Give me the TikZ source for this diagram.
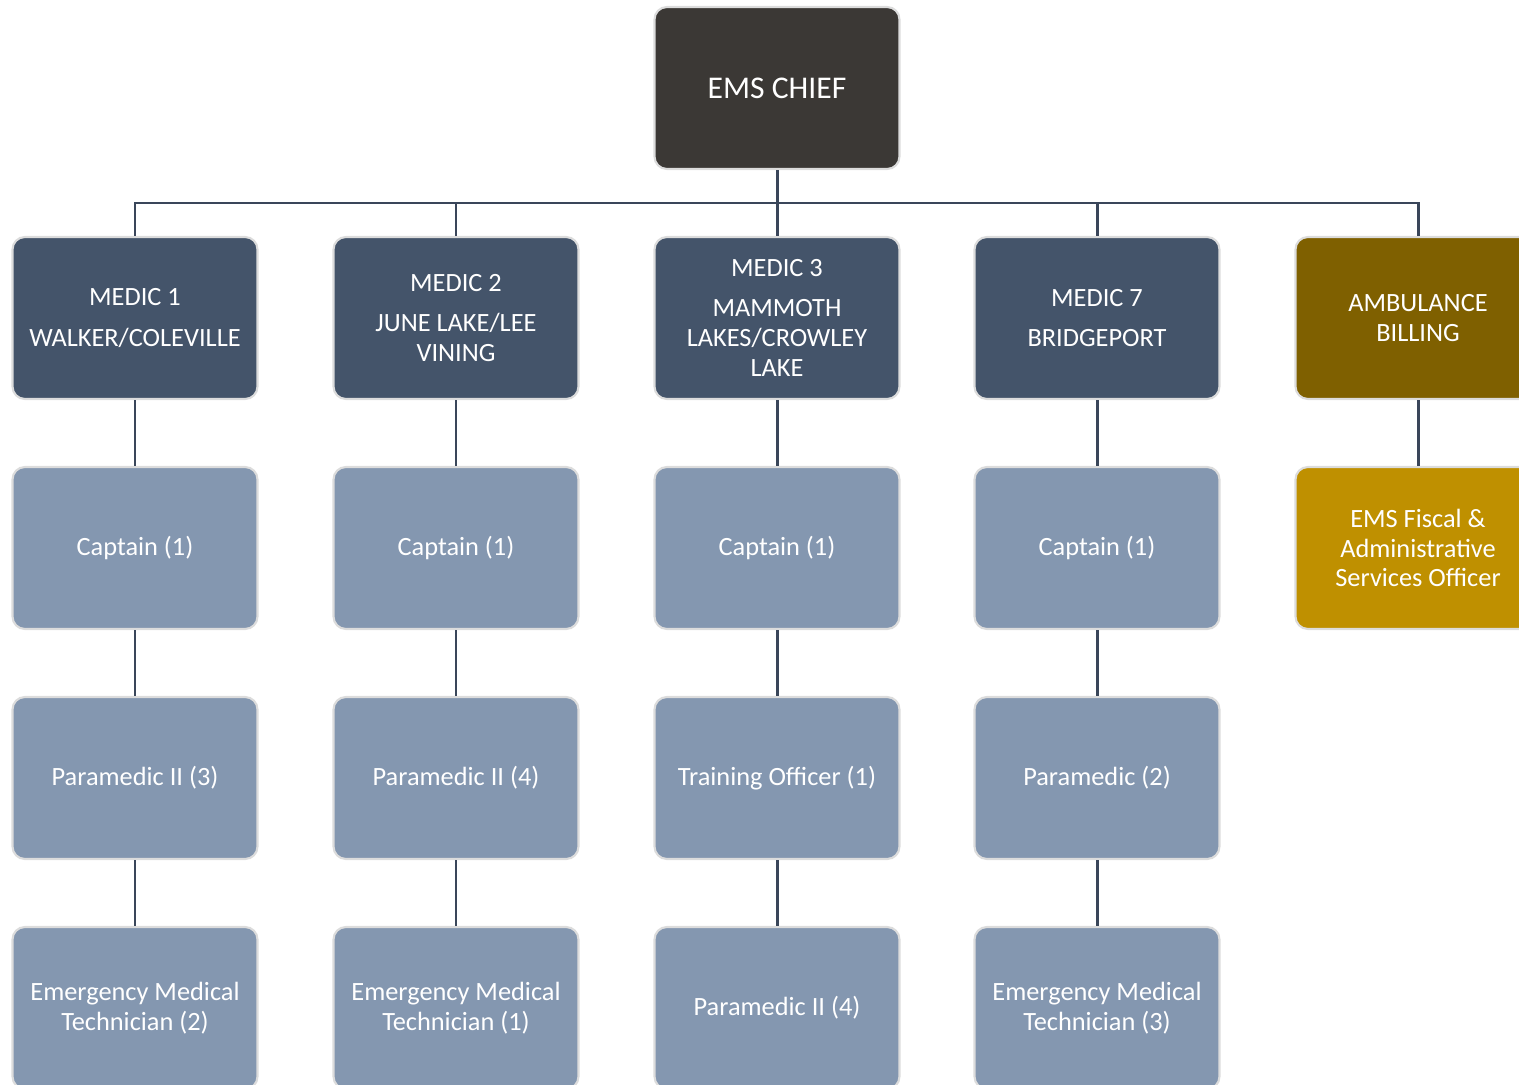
\documentclass[tikz,border=0pt]{standalone}
\usepackage{fontspec}
\setmainfont{Carlito}
\usetikzlibrary{positioning}
\definecolor{chiefgray}{HTML}{3B3835}
\definecolor{medicblue}{HTML}{44546A}
\definecolor{postblue}{HTML}{8497B0}
\definecolor{billbrown}{HTML}{7F6000}
\definecolor{fiscalgold}{HTML}{BF9000}
\definecolor{edgegray}{HTML}{DCDCDC}
\definecolor{linknavy}{HTML}{3A465A}

\begin{document}
\begin{tikzpicture}[
                x=0.02cm, y=0.02cm,
                box/.style={draw=edgegray, line width=1.2pt, rounded corners=7pt, minimum width=4.9cm, minimum height=3.24cm, inner sep=2pt, align=center, text=white, font=\fontsize{15}{17}\selectfont},
                chief/.style={box, fill=chiefgray, font=\fontsize{18}{21}\selectfont},
                medic/.style={box, fill=medicblue},
                post/.style={box, fill=postblue},
                billing/.style={box, fill=billbrown},
                fiscal/.style={box, fill=fiscalgold},
                link/.style={draw=linknavy, line width=1.7pt},
            ]
                \clip (0,0) rectangle (1519,-1085);

                % Top of the chart
                \node[chief] (chief) at (777,-88) {EMS CHIEF};
                \coordinate (bus) at (777,-203);

                % Stations and billing
                \node[medic] (med-1) at (135,-318) {MEDIC 1\\[6pt]WALKER/COLEVILLE};
                \node[medic] (med-2) at (456,-318) {MEDIC 2\\[6pt]JUNE LAKE/LEE\\VINING};
                \node[medic] (med-3) at (777,-318) {MEDIC 3\\[6pt]MAMMOTH\\LAKES/CROWLEY\\LAKE};
                \node[medic] (med-7) at (1097,-318) {MEDIC 7\\[6pt]BRIDGEPORT};
                \node[billing] (bill) at (1418,-318) {AMBULANCE\\BILLING};

                % Second row
                \foreach \name / \x in {1/135, 2/456, 3/777, 7/1097}
                    \node[post] (cap-\name) at (\x,-548) {Captain (1)};
                \node[fiscal] (fisc) at (1418,-548) {EMS Fiscal \&\\Administrative\\Services Officer};

                % Third row
                \node[post] (mid-1) at (135,-778) {Paramedic II (3)};
                \node[post] (mid-2) at (456,-778) {Paramedic II (4)};
                \node[post] (mid-3) at (777,-778) {Training Officer (1)};
                \node[post] (mid-7) at (1097,-778) {Paramedic (2)};

                % Bottom row
                \node[post] (low-1) at (135,-1008) {Emergency Medical\\Technician (2)};
                \node[post] (low-2) at (456,-1008) {Emergency Medical\\Technician (1)};
                \node[post] (low-3) at (777,-1008) {Paramedic II (4)};
                \node[post] (low-7) at (1097,-1008) {Emergency Medical\\Technician (3)};

                % Chief down to every station
                \foreach \dest in {med-1, med-2, med-3, med-7, bill}
                    \draw[link] (chief.south) -- (bus) -| (\dest.north);

                % Each station down its column
                \foreach \name in {1, 2, 3, 7} {
                    \draw[link] (med-\name.south) -- (cap-\name.north);
                    \draw[link] (cap-\name.south) -- (mid-\name.north);
                    \draw[link] (mid-\name.south) -- (low-\name.north);
                }
                \draw[link] (bill.south) -- (fisc.north);
            \end{tikzpicture}
\end{document}
